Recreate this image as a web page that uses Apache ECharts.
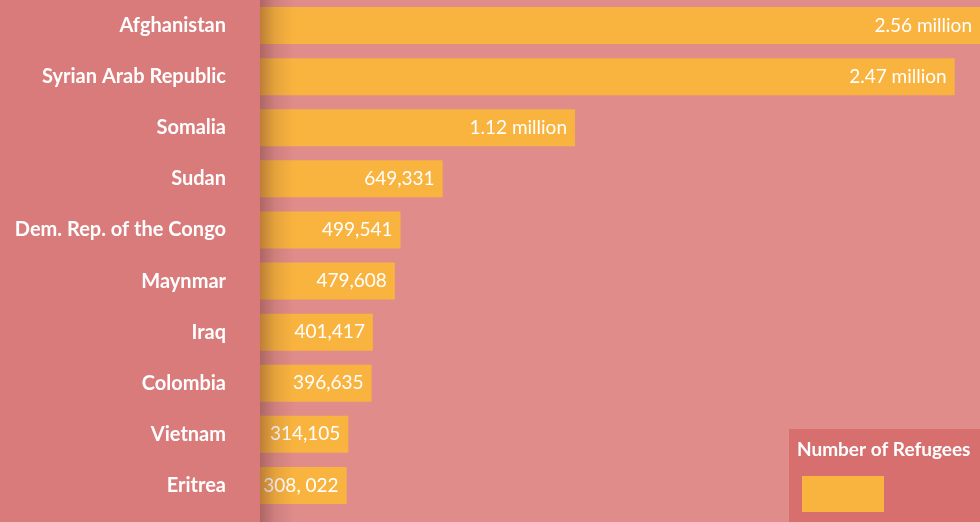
<!DOCTYPE html>
<html>
<head>
<meta charset="utf-8">
<script src="https://cdn.jsdelivr.net/npm/echarts@6/dist/echarts.min.js"></script>
<style>
  html, body { margin: 0; padding: 0; background: #df8c8a; }
  #chart { width: 980px; height: 522px; }
</style>
</head>
<body>
<div id="chart"></div>
<script>
// Countries of origin, largest refugee populations first
const countries = [
  'Afghanistan', 'Syrian Arab Republic', 'Somalia', 'Sudan',
  'Dem. Rep. of the Congo', 'Maynmar', 'Iraq', 'Colombia', 'Vietnam', 'Eritrea'
];
// Number of refugees per country
const refugees = [2560000, 2470000, 1120000, 649331, 499541, 479608, 401417, 396635, 314105, 308022];
// Text shown at the end of each bar
const valueLabels = [
  '2.56 million', '2.47 million', '1.12 million', '649,331', '499,541',
  '479,608', '401,417', '396,635', '314,105', '308, 022'
];
const seriesName = 'Number of Refugees';

const FONT = 'Lato, "Noto Sans", sans-serif';
const chart = echarts.init(document.getElementById('chart'));

chart.setOption({
  backgroundColor: '#df8c8a',
  animation: false,
  title: {
    text: seriesName,
    left: 797,
    top: 440,
    padding: 0,
    textStyle: { color: '#ffffff', fontFamily: FONT, fontWeight: 'bold', fontSize: 19 },
    z: 10
  },
  legend: {
    data: [seriesName],
    left: 789,
    top: 429,
    orient: 'vertical',
    backgroundColor: '#d76f6e',
    borderRadius: 0,
    padding: [47, 96, 10, 13],
    itemWidth: 82,
    itemHeight: 36,
    itemGap: 0,
    icon: 'rect',
    formatter: () => '',
    selectedMode: false,
    textStyle: { fontSize: 1 }
  },
  grid: { left: 260, right: 0, top: 0, bottom: 11, outerBoundsMode: 'none' },
  xAxis: {
    type: 'value',
    min: 0,
    max: 2560000,
    show: false
  },
  yAxis: {
    type: 'category',
    data: countries,
    inverse: true,
    axisLine: { show: false },
    axisTick: { show: false },
    splitLine: { show: false },
    axisLabel: {
      margin: 34,
      color: '#ffffff',
      fontFamily: FONT,
      fontWeight: 'bold',
      fontSize: 20
    }
  },
  graphic: [
    {
      // left-hand label panel
      type: 'rect',
      shape: { x: 0, y: 0, width: 260, height: 522 },
      style: { fill: '#d97b7a' },
      z: -1,
      silent: true
    },
    {
      // soft shadow cast by the label panel over the bars
      type: 'rect',
      shape: { x: 260, y: 0, width: 34, height: 522 },
      style: {
        fill: new echarts.graphic.LinearGradient(0, 0, 1, 0, [
          { offset: 0, color: 'rgba(90,40,40,0.38)' },
          { offset: 0.45, color: 'rgba(90,40,40,0.12)' },
          { offset: 1, color: 'rgba(90,40,40,0)' }
        ])
      },
      z: 100,
      silent: true
    }
  ],
  series: [{
    name: seriesName,
    type: 'bar',
    data: refugees,
    barWidth: 37,
    itemStyle: { color: '#f9b43f' },
    label: {
      show: true,
      position: 'insideRight',
      distance: 8,
      color: '#ffffff',
      fontFamily: FONT,
      fontSize: 19,
      formatter: p => valueLabels[p.dataIndex]
    }
  }]
});
</script>
</body>
</html>
